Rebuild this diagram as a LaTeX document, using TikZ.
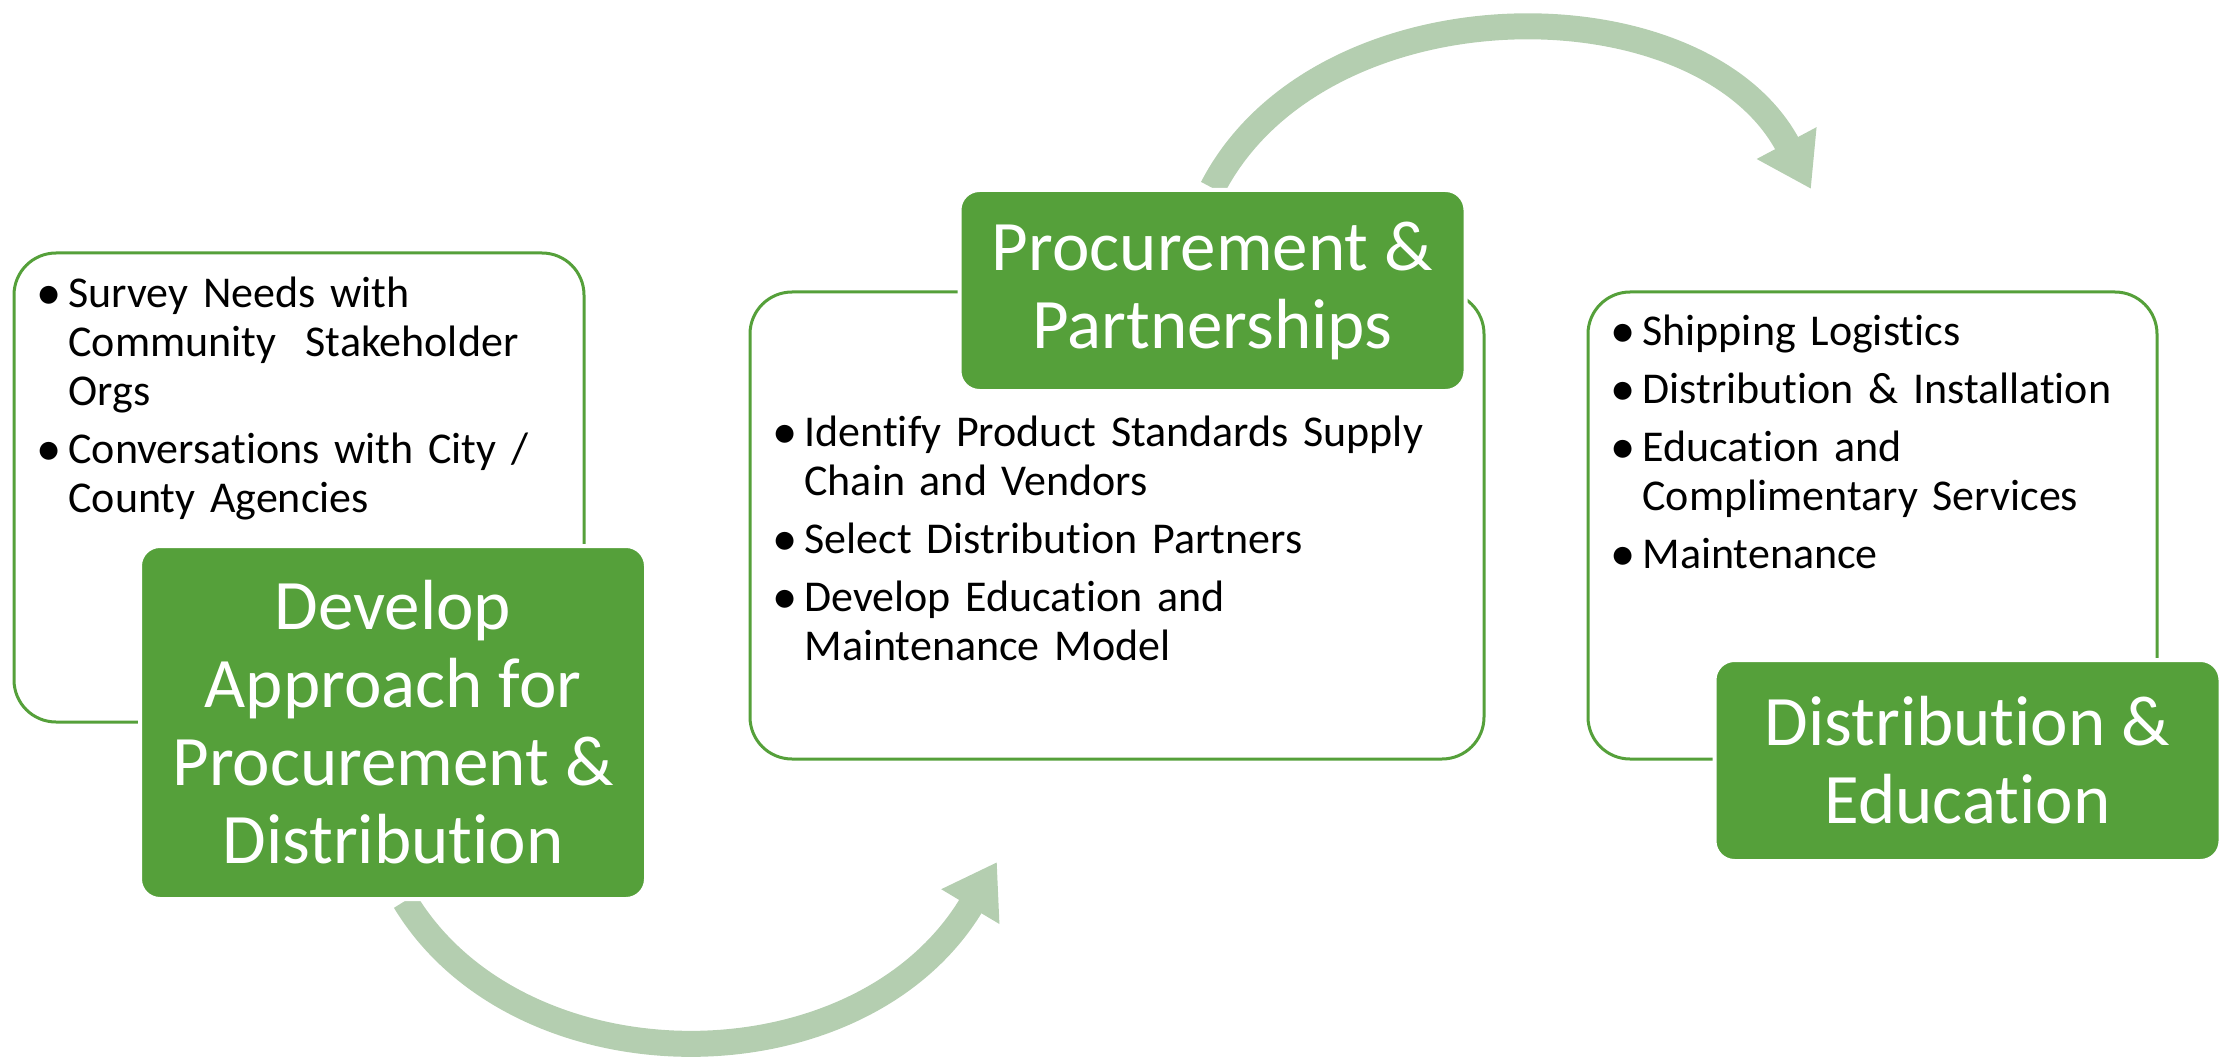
\documentclass[tikz,border=0pt]{standalone}
\usepackage{fontspec}
\setmainfont{Carlito}[Ligatures=NoCommon]
\usetikzlibrary{arrows.meta, backgrounds}
\definecolor{StepGreen}{HTML}{55A03A}
\definecolor{ArrowGreen}{HTML}{B4CEB0}
\newcommand{\pitem}[1]{\par\hangindent=16pt\hangafter=1\noindent
    \makebox[16pt][l]{\raisebox{-0.04em}{\scalebox{1.15}{\textbullet}}}#1\par}
\tikzset{
    listbox/.style={
        draw=StepGreen, line width=1.5pt, fill=white,
        rounded corners=21pt, inner sep=0pt
    },
    stepbox/.style={
        draw=white, line width=2pt, fill=StepGreen, text=white,
        rounded corners=10pt, align=center, inner sep=0pt,
        minimum width=253pt,
        font={\fontsize{35.5}{39}\selectfont}
    },
    bullets/.style={
        anchor=north west, inner sep=0pt, text width=400pt, align=left,
        font={\fontsize{22}{24.5}\selectfont\parskip=4.5pt}
    },
    flowarrow/.style={
        draw=ArrowGreen, line width=13pt,
        -{Triangle[length=26pt, width=32pt]}
    }
}

\begin{document}
\begin{tikzpicture}[x=0.5pt, y=-0.5pt]
\useasboundingbox (0,0) rectangle (2233,1064);

% Kaesten mit den Stichpunkten
\node[listbox, minimum width=285pt, minimum height=234.5pt] (devbox) at (299,487.5) {};
\node[listbox, minimum width=367pt, minimum height=233.5pt] (procbox) at (1117,525.5) {};
\node[listbox, minimum width=284.5pt, minimum height=233.5pt] (distbox) at (1872.5,525.5) {};

\node[bullets] (devlist) at (36,249) {
    \pitem{Survey Needs with\newline Community~ Stakeholder\newline Orgs}
    \pitem{Conversations with City /\newline County Agencies}
};
\node[bullets] (proclist) at (772,388) {
    \pitem{Identify Product Standards Supply\newline Chain and Vendors}
    \pitem{Select Distribution Partners}
    \pitem{Develop Education and\newline Maintenance Model}
};
\node[bullets] (distlist) at (1610,287) {
    \pitem{Shipping Logistics}
    \pitem{Distribution \& Installation}
    \pitem{Education and\newline Complimentary Services}
    \pitem{Maintenance}
};

% Gruene Titel
\node[stepbox, minimum height=176.5pt] (dev) at (393,722.5)
    {Develop\\Approach for\\Procurement \&\\Distribution};
\node[stepbox, minimum height=100.5pt] (proc) at (1212.5,290.5)
    {Procurement \&\\Partnerships};
\node[stepbox, minimum height=100.5pt] (dist) at (1967.5,760.5)
    {Distribution \&\\Education};

% Pfeile zwischen den Schritten, hinter den Titeln
\coordinate (tipA) at (997,862);
\coordinate (tipB) at (1811,189);
\begin{scope}[on background layer]
\draw[flowarrow] ([xshift=6pt]dev.south) .. controls (520,1091) and (860,1091) .. (tipA);
\draw[flowarrow] (proc.north) .. controls (1320,-20) and (1700,-20) .. (tipB);
\end{scope}

\end{tikzpicture}
\end{document}
